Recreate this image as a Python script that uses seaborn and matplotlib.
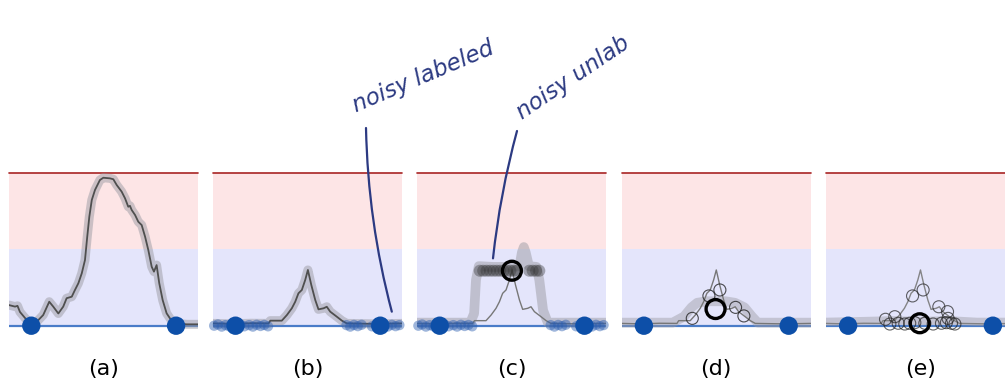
import numpy as np
import pandas as pd
import matplotlib
matplotlib.use("Agg")
import matplotlib.pyplot as plt
import seaborn as sns

sns.set_theme(style="white")
plt.rcParams["font.family"] = ["DejaVu Sans"]

# ---------------- data ----------------
panel_labels = ["(a)", "(b)", "(c)", "(d)", "(e)"]

# (a) broad score curve
curve_a_x = [0.0, 0.032, 0.045, 0.058, 0.094, 0.12, 0.147, 0.181, 0.213, 0.234, 0.261, 0.287,
             0.305, 0.332, 0.349, 0.367, 0.385, 0.402, 0.414, 0.425, 0.438, 0.455, 0.481, 0.499,
             0.534, 0.552, 0.570, 0.596, 0.614, 0.631, 0.640, 0.649, 0.667, 0.684, 0.702, 0.720,
             0.737, 0.755, 0.767, 0.781, 0.795, 0.813, 0.834, 0.861, 0.887, 0.94, 1.0]
curve_a_y = [0.135, 0.125, 0.13, 0.09, 0.037, 0.015, 0.026, 0.07, 0.157, 0.125, 0.08, 0.125,
             0.18, 0.19, 0.234, 0.278, 0.343, 0.43, 0.583, 0.714, 0.823, 0.889, 0.954, 0.969,
             0.965, 0.959, 0.921, 0.878, 0.834, 0.779, 0.785, 0.758, 0.725, 0.681, 0.659, 0.583,
             0.496, 0.386, 0.354, 0.397, 0.278, 0.168, 0.081, 0.031, 0.015, 0.009, 0.009]

# (b)-(e) narrow peaked curve
curve_b_x = [0.0, 0.10, 0.20, 0.293, 0.302, 0.363, 0.39, 0.416, 0.434, 0.451, 0.469, 0.487,
             0.501, 0.519, 0.54, 0.557, 0.584, 0.601, 0.619, 0.654, 0.681, 0.707, 0.85, 1.0]
curve_b_y = [0.015, 0.012, 0.016, 0.015, 0.033, 0.033, 0.07, 0.114, 0.157, 0.212, 0.234, 0.30,
             0.365, 0.267, 0.168, 0.107, 0.114, 0.124, 0.092, 0.059, 0.033, 0.015, 0.012, 0.015]

# smoothed bands
band_c_x = [0.0, 0.28, 0.30, 0.31, 0.325, 0.40, 0.50, 0.54, 0.553, 0.563, 0.573, 0.59, 0.63,
            0.645, 0.665, 0.69, 1.0]
band_c_y = [0.02, 0.02, 0.08, 0.30, 0.39, 0.385, 0.385, 0.39, 0.48, 0.515, 0.48, 0.39, 0.385,
            0.30, 0.10, 0.02, 0.02]
band_d_x = [0.0, 0.27, 0.33, 0.37, 0.40, 0.45, 0.55, 0.60, 0.65, 0.69, 0.72, 1.0]
band_d_y = [0.02, 0.02, 0.06, 0.12, 0.15, 0.16, 0.16, 0.15, 0.12, 0.06, 0.02, 0.02]
band_e_x = [0.0, 0.2, 0.35, 0.5, 0.65, 0.8, 1.0]
band_e_y = [0.025, 0.03, 0.035, 0.03, 0.035, 0.025, 0.025]

# labeled points
labeled_x = [0.118, 0.884]
labeled_y = [0.0, 0.0]

# noisy labeled points
noisy_x = [0.005, 0.025, 0.045, 0.065, 0.085, 0.145, 0.165, 0.19, 0.21, 0.23, 0.25, 0.27, 0.29,
           0.705, 0.725, 0.745, 0.765, 0.785, 0.84, 0.86, 0.905, 0.925, 0.945, 0.965, 0.985]
noisy_y = [0.0, 0.008, -0.006, 0.004, -0.004, 0.006, -0.004, 0.004, -0.006, 0.006, -0.002, 0.005,
           -0.004, 0.004, -0.006, 0.005, -0.003, 0.006, -0.004, 0.005, 0.004, -0.005, 0.006,
           -0.003, 0.004]

# noisy unlabeled points (c)
unlab_x = [0.33, 0.348, 0.366, 0.384, 0.402, 0.42, 0.438, 0.456, 0.474, 0.492, 0.51,
           0.525, 0.592, 0.61, 0.628, 0.645]
unlab_y = [0.36, 0.36, 0.36, 0.36, 0.36, 0.36, 0.36, 0.36, 0.36, 0.36, 0.36,
           0.36, 0.36, 0.36, 0.36, 0.36]

# sampled points (d), (e)
open_d_x = [0.374, 0.462, 0.52, 0.603, 0.647]
open_d_y = [0.048, 0.195, 0.234, 0.12, 0.064]
open_e_x = [0.459, 0.515, 0.598, 0.644, 0.647, 0.316, 0.365, 0.339, 0.383, 0.418, 0.444, 0.471,
            0.524, 0.568, 0.612, 0.665, 0.683, 0.638]
open_e_y = [0.195, 0.234, 0.124, 0.092, 0.048, 0.042, 0.059, 0.011, 0.016, 0.011, 0.016, 0.02,
            0.016, 0.011, 0.016, 0.016, 0.011, 0.02]

# query point (c), (d), (e)
center_x = [0.50, 0.497, 0.497]
center_y = [0.36, 0.109, 0.016]

# ---------------- style ----------------
W, H = 1005, 379
fig = plt.figure(figsize=(W / 100, H / 100), dpi=100)
fig.patch.set_facecolor("white")

RED_BAND = "#fde5e6"
BLUE_BAND = "#e4e5fb"
RED_LINE = "#a82424"
BLUE_LINE = "#4a7cc8"
DOT_BLUE = "#0d4fa8"
INK = "#2c3a82"

panel_w = 189
top_px, bottom_px, zero_px = 173, 340, 325.7
unit_px = zero_px - top_px
ymin = -(bottom_px - zero_px) / unit_px

axes = []
for i in range(5):
    left = 9 + 204.2 * i
    ax = fig.add_axes([left / W, 1 - bottom_px / H, panel_w / W, (bottom_px - top_px) / H])
    ax.set_xlim(0, 1)
    ax.set_ylim(ymin, 1.0)
    ax.axis("off")
    ax.axhspan(0.5, 1.0, color=RED_BAND, lw=0, zorder=0)
    ax.axhspan(0.0, 0.5, color=BLUE_BAND, lw=0, zorder=0)
    ax.axhline(1.0, color=RED_LINE, lw=1.2, clip_on=False, zorder=1)
    ax.axhline(0.0, color=BLUE_LINE, lw=1.6, zorder=1)
    ax.text(0.5, -(368.5 - bottom_px) / (bottom_px - top_px), panel_labels[i],
            transform=ax.transAxes, ha="center", va="center", fontsize=16, color="black")
    axes.append(ax)


def line(ax, x, y, **kw):
    sns.lineplot(x=x, y=y, ax=ax, sort=False, estimator=None, solid_capstyle="round", **kw)


def big_dots(ax):
    sns.scatterplot(x=labeled_x, y=labeled_y, ax=ax, s=175, color=DOT_BLUE, edgecolor="none",
                    zorder=10, clip_on=False)


def noisy_dots(ax):
    sns.scatterplot(x=noisy_x, y=noisy_y, ax=ax, s=55, color="#2a5db0", alpha=0.45,
                    edgecolor="none", zorder=6, clip_on=False)


HALO = "#9b9ba3"

# (a)
ax = axes[0]
line(ax, curve_a_x, curve_a_y, color=HALO, alpha=0.5, lw=6.5, zorder=3)
line(ax, curve_a_x, curve_a_y, color="#4f4f4f", lw=1.3, zorder=4)
big_dots(ax)

# (b)
ax = axes[1]
line(ax, curve_b_x, curve_b_y, color=HALO, alpha=0.5, lw=6.5, zorder=3)
line(ax, curve_b_x, curve_b_y, color="#4f4f4f", lw=1.3, zorder=4)
noisy_dots(ax)
big_dots(ax)

# (c)
ax = axes[2]
line(ax, band_c_x, band_c_y, color=HALO, alpha=0.5, lw=7, zorder=3)
line(ax, curve_b_x, curve_b_y, color="#777777", lw=1.0, zorder=4)
sns.scatterplot(x=unlab_x, y=unlab_y, ax=ax, s=75, color="#333333", alpha=0.38,
                edgecolor="none", zorder=6)
sns.scatterplot(x=center_x[:1], y=center_y[:1], ax=ax, s=185, color="none",
                edgecolor="black", linewidth=2.4, zorder=8)
noisy_dots(ax)
big_dots(ax)

# (d)
ax = axes[3]
line(ax, band_d_x, band_d_y, color=HALO, alpha=0.45, lw=7, zorder=3)
line(ax, curve_b_x, curve_b_y, color="#777777", lw=1.0, zorder=4)
sns.scatterplot(x=open_d_x, y=open_d_y, ax=ax, s=75, color="none", edgecolor="#222222",
                linewidth=0.8, alpha=0.8, zorder=7)
sns.scatterplot(x=center_x[1:2], y=center_y[1:2], ax=ax, s=185, color="none",
                edgecolor="black", linewidth=2.4, zorder=8)
big_dots(ax)

# (e)
ax = axes[4]
line(ax, band_e_x, band_e_y, color=HALO, alpha=0.45, lw=6, zorder=3)
line(ax, curve_b_x, curve_b_y, color="#7a7a7a", lw=1.0, alpha=0.9, zorder=4)
sns.scatterplot(x=open_e_x, y=open_e_y, ax=ax, s=75, color="none", edgecolor="#222222",
                linewidth=0.8, alpha=0.7, zorder=7)
sns.scatterplot(x=center_x[2:], y=center_y[2:], ax=ax, s=185, color="none",
                edgecolor="black", linewidth=2.4, zorder=8)
big_dots(ax)

# ---------------- handwritten annotations ----------------
fig.text(356 / W, 1 - 112 / H, "noisy labeled", rotation=23, rotation_mode="anchor",
         ha="left", va="baseline", fontsize=16.5, color=INK, style="italic")
fig.text(522 / W, 1 - 120 / H, "noisy unlab", rotation=34, rotation_mode="anchor",
         ha="left", va="baseline", fontsize=16.5, color=INK, style="italic")

axes[1].annotate("", xy=(0.945, 0.092), xycoords="data",
                 xytext=(366 / W, 1 - 128 / H), textcoords="figure fraction",
                 annotation_clip=False,
                 arrowprops=dict(arrowstyle="-", color=INK, lw=1.6, shrinkA=0, shrinkB=0,
                                 connectionstyle="arc3,rad=0.06"))
axes[2].annotate("", xy=(0.40, 0.441), xycoords="data",
                 xytext=(517 / W, 1 - 131 / H), textcoords="figure fraction",
                 annotation_clip=False,
                 arrowprops=dict(arrowstyle="-", color=INK, lw=1.6, shrinkA=0, shrinkB=0,
                                 connectionstyle="arc3,rad=0.04"))

fig.savefig("out.png", dpi=100, facecolor="white")
